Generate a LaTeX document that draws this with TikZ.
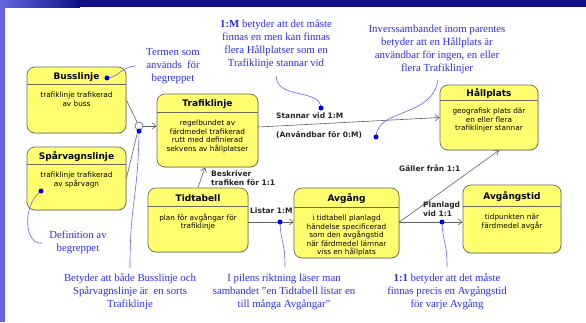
\documentclass[tikz,border=0pt]{standalone}
\usepackage{fontspec}
\setmainfont{Liberation Serif}
\newfontfamily\boxfont{DejaVu Sans}
\usetikzlibrary{calc,arrows.meta,shadows}

\definecolor{clsfill}{RGB}{255,255,112}
\definecolor{clsline}{RGB}{105,105,85}
\definecolor{notecol}{RGB}{45,45,240}
\definecolor{notewirecol}{RGB}{100,100,255}
\definecolor{dotcol}{RGB}{0,0,230}
\definecolor{wire}{RGB}{95,95,95}
\definecolor{barnavy}{RGB}{16,16,135}
\definecolor{barside}{RGB}{100,100,225}

\tikzset{
  clsbox/.style={draw=clsline, line width=0.7pt, fill=clsfill, rounded corners=8pt,
    inner sep=0pt, drop shadow={opacity=0.25, shadow xshift=0.8pt, shadow yshift=-0.8pt}},
  clssep/.style={draw=clsline, line width=0.6pt},
  clstitle/.style={font=\boxfont\bfseries\fontsize{9}{10}\selectfont, inner sep=0pt},
  clsbody/.style={font=\boxfont\fontsize{7.3}{8.6}\selectfont, align=center, inner sep=0pt},
  rel/.style={draw=wire, line width=0.6pt, -{Straight Barb[length=4pt,width=6pt]}},
  plainwire/.style={draw=wire, line width=0.6pt},
  rellabel/.style={font=\boxfont\bfseries\fontsize{7.5}{9.5}\selectfont, text=black!85,
    inner sep=0pt, align=left, anchor=west},
  note/.style={font=\fontsize{10.8}{13}\selectfont, text=notecol, align=center, inner sep=0pt},
  notewire/.style={draw=notewirecol, line width=0.6pt},
  bdot/.style={circle, fill=dotcol, inner sep=0pt, minimum size=5pt},
  genmark/.style={circle, draw=wire, fill=white, line width=0.6pt, minimum size=8pt, inner sep=0pt},
}

% class box: name, centre x, centre y, width, height, header depth, title, description
\newcommand\classbox[8]{%
  \node[clsbox, minimum width=#4, minimum height=#5] (#1) at (#2,#3) {};
  \draw[clssep] ($(#1.north west)+(0,#6)$) -- ($(#1.north east)+(0,#6)$);
  \node[clstitle] (#1-t) at ($(#1.north)+(0,#6/2+1)$) {#7};
  \node[clsbody, anchor=north] (#1-b) at ($(#1.north)+(0,#6+7)$) {#8};
}

\begin{document}
\begin{tikzpicture}[x=1pt, y=-1pt]
  \useasboundingbox (0,0) rectangle (586,322);
  \fill[white] (0,0) rectangle (586,322);

  % slide frame
  \fill[barside] (0,0) rectangle (5,322);
  \fill[barnavy] (0,0) rectangle (586,7);
  \shade[left color=barside, right color=barnavy] (0,0) rectangle (80,7);

  % classes
  \classbox{buss}{76.5}{100}{99}{66}{18}{Busslinje}{trafiklinje trafikerad\\av buss}
  \classbox{sparv}{76.5}{178.5}{99}{63}{18}{Spårvagnslinje}{trafiklinje trafikerad\\av spårvagn}
  \classbox{trafik}{207.5}{130.5}{101}{73}{19}{Trafiklinje}{regelbundet av\\färdmedel trafikerad\\rutt med definierad\\sekvens av hållplatser}
  \classbox{hall}{489}{117.5}{98}{65}{16}{Hållplats}{geografisk plats där\\en eller flera\\trafiklinjer stannar}
  \classbox{tidt}{198}{220}{100}{64}{19}{Tidtabell}{plan för avgångar för\\trafiklinje}
  \classbox{avg}{346.5}{223}{105}{70}{20}{Avgång}{i tidtabell planlagd\\händelse specificerad\\som den avgångstid\\när färdmedel lämnar\\viss en hållplats}
  \classbox{avgt}{512}{219}{98}{68}{22}{Avgångstid}{tidpunkten när\\färdmedel avgår}

  % generalisation
  \node[genmark] (gen) at (139,126) {};
  \draw[plainwire] (buss.east) -- (gen);
  \draw[plainwire] (sparv.east) -- (gen);
  \draw[rel] (gen) -- (gen -| trafik.west);

  % associations
  \draw[rel] ($(trafik.east)+(0,-3.5)$) -- (hall.west);
  \draw[rel] (tidt.north) -- ($(trafik.south)+(-2.5,0)$);
  \draw[rel] ($(tidt.east)+(0,2)$) -- ($(avg.west)+(0,-1)$);
  \draw[rel] ($(avg.east)+(0,-1)$) -- ($(avgt.west)+(0,3)$);
  \draw[rel] ($(avg.east)+(0,-1)$) -- ($(hall.south)+(10,0)$);

  % association labels
  \node[rellabel] (l-stop) at (276,116) {Stannar vid 1:M};
  \node[rellabel] (l-use) at (276,135) {(Användbar för 0:M)};
  \node[rellabel] (l-desc) at (211,178) {Beskriver\\trafiken för 1:1};
  \node[rellabel] (l-list) at (250,211) {Listar 1:M};
  \node[rellabel] (l-plan) at (423,209) {Planlagd\\vid 1:1};
  \node[rellabel] (l-valid) at (399,168) {Gäller från 1:1};

  % explanatory notes
  \node[note] (n-term) at (173,66) {Termen som\\används~ för\\begreppet};
  \node[note] (n-mult) at (276,44.5) {\textbf{1:M} betyder att det måste\\finnas en men kan finnas\\flera Hållplatser som en\\Trafiklinje stannar vid};
  \node[note] (n-inv) at (437,49.5) {Inverssambandet inom parentes\\betyder att en Hållplats är\\användbar för ingen, en eller\\flera Trafiklinjer};
  \node[note] (n-def) at (78,242.5) {Definition av\\begreppet};
  \node[note] (n-gen) at (130,292) {Betyder att både Busslinje och\\Spårvagnslinje är~ en sorts\\Trafiklinje};
  \node[note] (n-dir) at (284,292) {I pilens riktning läser man\\sambandet "en Tidtabell listar en\\till många Avgångar"};
  \node[note] (n-one) at (447,292) {\textbf{1:1} betyder att det måste\\finnas precis en Avgångstid\\för varje Avgång};

  % note wire ends
  \coordinate (w-term) at (136,66);
  \coordinate (w-mult) at (276,76);
  \coordinate (w-inv) at (438,80);
  \coordinate (w-def) at (42,243);
  \coordinate (w-gen) at (130,268);
  \coordinate (w-dir) at (285,267);
  \coordinate (w-one) at (447,267);

  % note wires
  \draw[notewire] (107,78) .. controls (118,78) and (122,66) .. (w-term);
  \draw[notewire] (w-mult) .. controls (277,100) and (320,88) .. (321,108);
  \draw[notewire] (w-inv) .. controls (432,118) and (377,108) .. (376,137);
  \draw[notewire] (41,191) .. controls (22,205) and (24,245) .. (w-def);
  \draw[notewire] (139,131) .. controls (138,200) and (130,200) .. (w-gen);
  \draw[notewire] (280,222) .. controls (281,245) and (285,240) .. (w-dir);
  \draw[notewire] (442,222) .. controls (443,245) and (447,240) .. (w-one);

  % note anchor dots
  \node[bdot] (d-buss) at (107,78) {};
  \node[bdot] (d-spec) at (41,191) {};
  \node[bdot] (d-gen) at (139,131) {};
  \node[bdot] (d-mult) at (321,108) {};
  \node[bdot] (d-inv) at (376,137) {};
  \node[bdot] (d-list) at (280,222) {};
  \node[bdot] (d-one) at (442,222) {};
\end{tikzpicture}
\end{document}
